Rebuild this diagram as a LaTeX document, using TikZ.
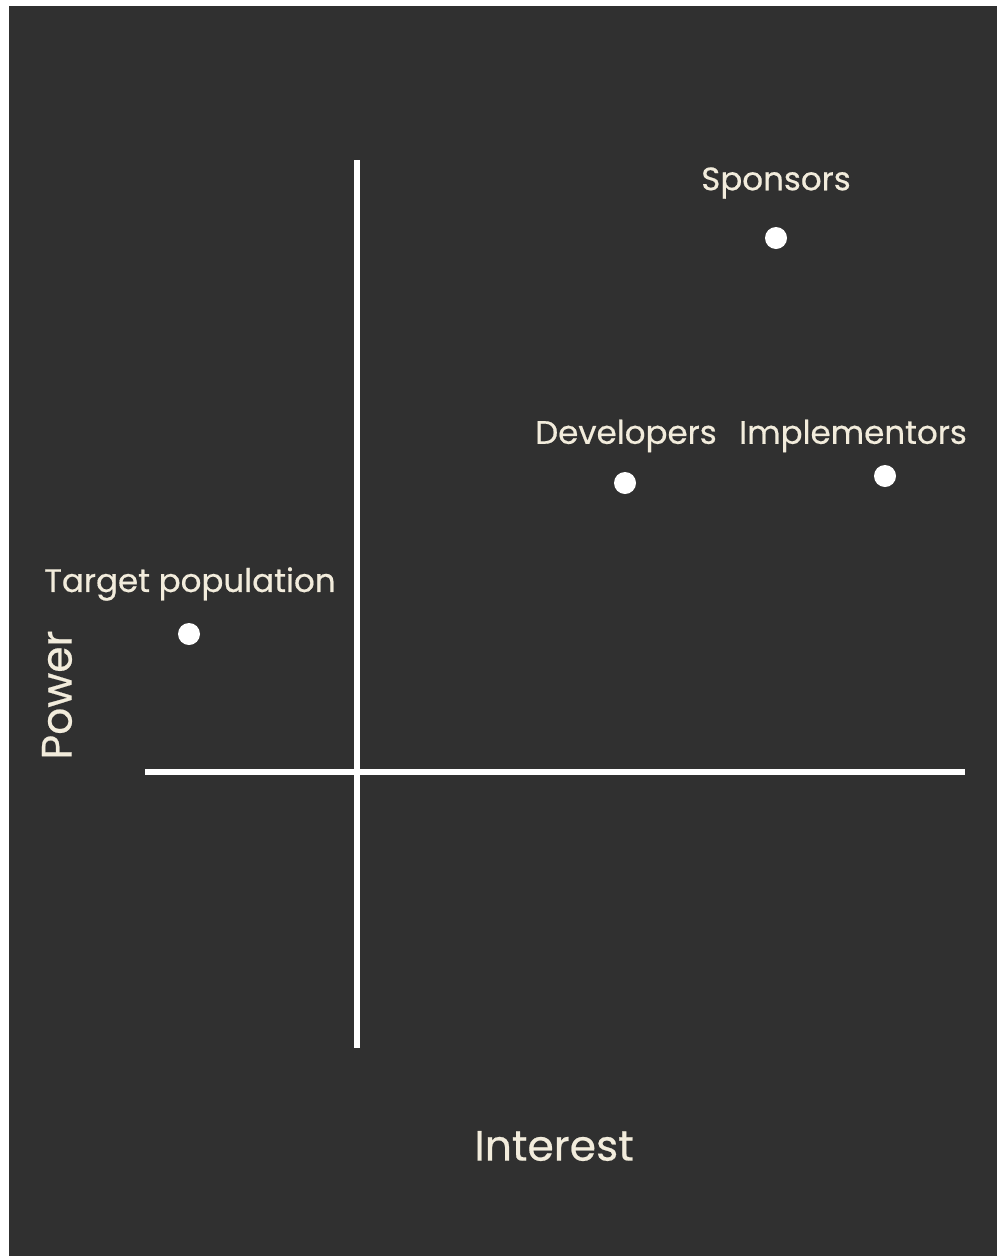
\documentclass[tikz,border=0pt]{standalone}
\usepackage{fontspec}
\setmainfont{Poppins}[FakeBold=0.5]
\usetikzlibrary{positioning}
\definecolor{board}{HTML}{303030}
\definecolor{cream}{HTML}{F2ECDC}
\begin{document}
\begin{tikzpicture}[x=1pt, y=-1pt]
    \tikzstyle{axis} = [draw=white, line width=6pt]
    \tikzstyle{point} = [circle, fill=white, inner sep=0pt, minimum size=22pt]
    \tikzstyle{tag} = [text=cream, font=\fontsize{32.5}{36}\selectfont, inner sep=0pt]
    \tikzstyle{title} = [text=cream, font=\fontsize{42.5}{48}\selectfont, inner sep=0pt]

    % Page and board
    \useasboundingbox (0,0) rectangle (997,1256);
    \fill[white] (0,0) rectangle (997,1256);
    \fill[board] (9,6) rectangle (997,1256);

    % Axes
    \coordinate (ytop) at (357,160);
    \coordinate (ybot) at (357,1048);
    \coordinate (xleft) at (145,772);
    \coordinate (xright) at (965,772);
    \draw [axis] (ytop) -- (ybot);
    \draw [axis] (xleft) -- (xright);

    % Stakeholders
    \node [point] (sponsors) at (776,238) {};
    \node [point] (developers) at (625,483) {};
    \node [point] (implementors) at (885,476) {};
    \node [point] (target) at (189,634) {};

    \node [tag] (sponsorslbl) at (776,183) {Sponsors};
    \node [tag] (developerslbl) at (626,436) {Developers};
    \node [tag] (implementorslbl) at (853,436) {Implementors};
    \node [tag] (targetlbl) at (190,584) {Target population};

    % Axis titles
    \node [title, rotate=90] (power) at (57,695) {Power};
    \node [title] (interest) at (554,1146) {Interest};
\end{tikzpicture}
\end{document}
